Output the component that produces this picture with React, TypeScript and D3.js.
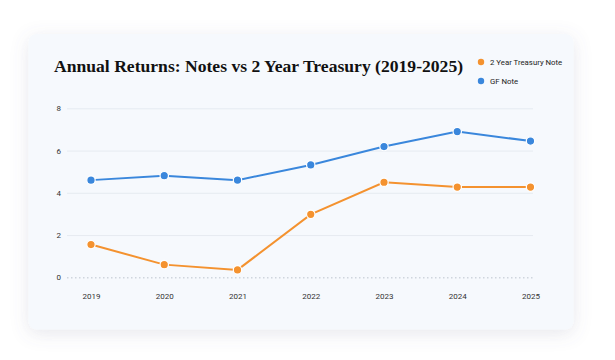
import { useEffect, useRef } from "react";
import * as d3 from "d3";

const years = ["2019", "2020", "2021", "2022", "2023", "2024", "2025"];
const treasury = [1.55, 0.6, 0.35, 2.98, 4.5, 4.27, 4.27];
const gfNote = [4.6, 4.81, 4.6, 5.32, 6.19, 6.9, 6.45];
const yTicks = [0, 2, 4, 6, 8];
const seriesNames = ["2 Year Treasury Note", "GF Note"];
const seriesColors = ["#f4922f", "#3a87dc"];

const W = 615;
const H = 360;

export default function App() {
  const ref = useRef<SVGSVGElement>(null);

  useEffect(() => {
    const svg = d3.select(ref.current!);
    svg.selectAll("*").remove();

    const defs = svg.append("defs");
    const f = defs
      .append("filter")
      .attr("id", "shadow")
      .attr("x", "-10%")
      .attr("y", "-10%")
      .attr("width", "120%")
      .attr("height", "125%");
    f.append("feDropShadow")
      .attr("dx", 0)
      .attr("dy", 4)
      .attr("stdDeviation", 9)
      .attr("flood-color", "#6a6a90")
      .attr("flood-opacity", 0.16);

    // card
    svg
      .append("rect")
      .attr("x", 28.5)
      .attr("y", 34)
      .attr("width", 545)
      .attr("height", 295.5)
      .attr("rx", 8)
      .attr("fill", "#f6f9fd")
      .attr("filter", "url(#shadow)");

    // title
    svg
      .append("text")
      .attr("x", 54)
      .attr("y", 72)
      .attr("font-family", "'Liberation Serif', serif")
      .attr("font-weight", 700)
      .attr("font-size", 17.6)
      .attr("fill", "#111")
      .text("Annual Returns: Notes vs 2 Year Treasury (2019-2025)");

    // legend
    const lg = svg.append("g").attr("font-family", "Roboto, sans-serif");
    seriesNames.forEach((name, i) => {
      const y = 62 + i * 19;
      lg.append("circle").attr("cx", 481).attr("cy", y).attr("r", 3.2).attr("fill", seriesColors[i]);
      lg.append("text")
        .attr("x", 490)
        .attr("y", y)
        .attr("dy", "0.35em")
        .attr("font-size", 7.8)
        .attr("fill", "#222")
        .text(name);
    });

    const x = d3.scalePoint<string>().domain(years).range([91, 530.5]);
    const y = d3.scaleLinear().domain([0, 8]).range([277.3, 108.3]);
    const gridL = 67;
    const gridR = 533;

    // y axis + gridlines
    const yAxis = svg
      .append("g")
      .attr("transform", `translate(${gridL},0)`)
      .call(d3.axisLeft(y).tickValues(yTicks).tickSize(-(gridR - gridL)).tickPadding(6))
      .call((g) => g.select(".domain").remove());
    yAxis
      .selectAll(".tick line")
      .attr("stroke", (d) => ((d as number) === 0 ? "#cfd6de" : "#e6ebf1"))
      .attr("stroke-width", (d) => ((d as number) === 0 ? 1.5 : 1))
      .attr("stroke-dasharray", (d) => ((d as number) === 0 ? "1.5,2.5" : null));
    yAxis
      .selectAll(".tick text")
      .attr("font-family", "Roboto, sans-serif")
      .attr("font-size", 8)
      .attr("fill", "#333");

    // x axis
    svg
      .append("g")
      .attr("transform", `translate(0,293.5)`)
      .call(d3.axisBottom(x).tickSize(0).tickPadding(0))
      .call((g) => g.select(".domain").remove())
      .call((g) =>
        g
          .selectAll(".tick text")
          .attr("font-family", "Roboto, sans-serif")
          .attr("font-size", 8)
          .attr("fill", "#333")
          .attr("dy", "0.71em")
      );

    const line = d3
      .line<number>()
      .x((_, i) => x(years[i])!)
      .y((d) => y(d));

    [treasury, gfNote].forEach((vals, si) => {
      const g = svg.append("g");
      g.append("path")
        .datum(vals)
        .attr("d", line)
        .attr("fill", "none")
        .attr("stroke", seriesColors[si])
        .attr("stroke-width", 2);
      g.selectAll("circle")
        .data(vals)
        .join("circle")
        .attr("cx", (_, i) => x(years[i])!)
        .attr("cy", (d) => y(d))
        .attr("r", 4.2)
        .attr("fill", seriesColors[si])
        .attr("stroke", "#fff")
        .attr("stroke-width", 1.2);
    });
  }, []);

  return (
    <svg
      ref={ref}
      width={W}
      height={H}
      style={{ position: "absolute", left: 0, top: 0, background: "#fff" }}
    />
  );
}
